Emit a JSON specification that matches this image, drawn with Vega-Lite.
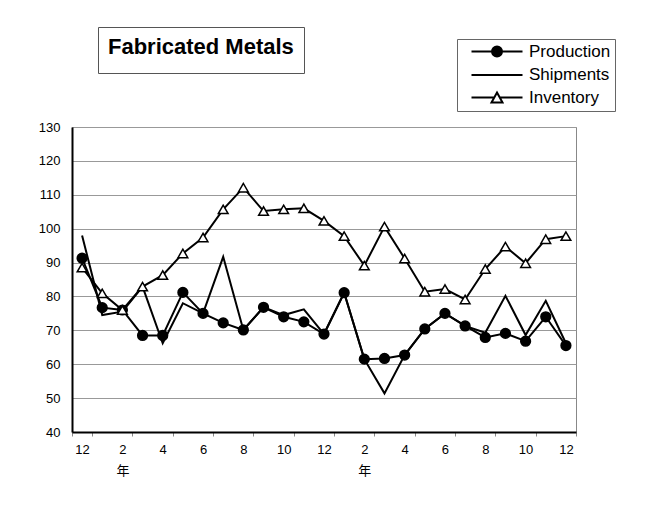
{
  "$schema": "https://vega.github.io/schema/vega-lite/v6.json",
  "width": 504,
  "height": 305,
  "autosize": {"type": "none"},
  "padding": {"left": 72, "top": 127, "right": 72, "bottom": 73},
  "background": "white",
  "config": {
    "view": {"stroke": "#888", "strokeWidth": 1},
    "font": "Liberation Sans, Noto Sans CJK JP"
  },
  "data": {
    "values": [
      {"p": "Y0-12", "Production": 91.3, "Shipments": 98.0, "Inventory": 88.5},
      {"p": "Y1-01", "Production": 76.7, "Shipments": 74.5, "Inventory": 80.9},
      {"p": "Y1-02", "Production": 76.0, "Shipments": 75.5, "Inventory": 76.0},
      {"p": "Y1-03", "Production": 68.5, "Shipments": 82.9, "Inventory": 82.9},
      {"p": "Y1-04", "Production": 68.5, "Shipments": 66.2, "Inventory": 86.3},
      {"p": "Y1-05", "Production": 81.2, "Shipments": 78.0, "Inventory": 92.7},
      {"p": "Y1-06", "Production": 75.0, "Shipments": 75.0, "Inventory": 97.4},
      {"p": "Y1-07", "Production": 72.2, "Shipments": 91.7, "Inventory": 105.7},
      {"p": "Y1-08", "Production": 70.1, "Shipments": 70.1, "Inventory": 112.1},
      {"p": "Y1-09", "Production": 76.8, "Shipments": 76.8, "Inventory": 105.2},
      {"p": "Y1-10", "Production": 74.0, "Shipments": 74.5, "Inventory": 105.7},
      {"p": "Y1-11", "Production": 72.5, "Shipments": 76.2, "Inventory": 106.0},
      {"p": "Y1-12", "Production": 68.9, "Shipments": 68.9, "Inventory": 102.3},
      {"p": "Y2-01", "Production": 81.1, "Shipments": 81.1, "Inventory": 97.8},
      {"p": "Y2-02", "Production": 61.5, "Shipments": 61.5, "Inventory": 89.1},
      {"p": "Y2-03", "Production": 61.7, "Shipments": 51.4, "Inventory": 100.6},
      {"p": "Y2-04", "Production": 62.7, "Shipments": 62.7, "Inventory": 91.2},
      {"p": "Y2-05", "Production": 70.4, "Shipments": 70.4, "Inventory": 81.4},
      {"p": "Y2-06", "Production": 75.0, "Shipments": 75.0, "Inventory": 82.2},
      {"p": "Y2-07", "Production": 71.3, "Shipments": 71.3, "Inventory": 79.1},
      {"p": "Y2-08", "Production": 67.9, "Shipments": 69.3, "Inventory": 88.1},
      {"p": "Y2-09", "Production": 69.1, "Shipments": 80.2, "Inventory": 94.7},
      {"p": "Y2-10", "Production": 66.8, "Shipments": 68.6, "Inventory": 89.8},
      {"p": "Y2-11", "Production": 74.0, "Shipments": 78.7, "Inventory": 96.9},
      {"p": "Y2-12", "Production": 65.5, "Shipments": 66.2, "Inventory": 97.8}
    ]
  },
  "transform": [{"fold": ["Production", "Shipments", "Inventory"], "as": ["series", "v"]}],
  "encoding": {
    "x": {
      "field": "p",
      "type": "ordinal",
      "sort": null,
      "scale": {"type": "band", "paddingInner": 0, "paddingOuter": 0},
      "axis": {
        "title": null,
        "values": ["Y0-12", "Y1-02", "Y1-04", "Y1-06", "Y1-08", "Y1-10", "Y1-12", "Y2-02", "Y2-04", "Y2-06", "Y2-08", "Y2-10", "Y2-12"],
        "labelExpr": "isString(datum.value) ? ((datum.value == 'Y1-02' || datum.value == 'Y2-02') ? ['2', '年'] : '' + toNumber(substring(datum.value, 3))) : ''",
        "labelAngle": 0,
        "labelFontSize": 13,
        "labelColor": "black",
        "labelPadding": 7,
        "labelLineHeight": 21,
        "tickBand": "extent",
        "ticks": true,
        "tickSize": 4,
        "tickColor": "#888",
        "domainColor": "black",
        "domainWidth": 2,
        "grid": false
      }
    },
    "y": {
      "field": "v",
      "type": "quantitative",
      "scale": {"domain": [40, 130], "nice": false, "zero": false},
      "axis": {
        "title": null,
        "values": [40, 50, 60, 70, 80, 90, 100, 110, 120, 130],
        "ticks": false,
        "labelPadding": 12,
        "labelFontSize": 13,
        "labelColor": "black",
        "domainColor": "black",
        "domainWidth": 2,
        "gridColor": "#999",
        "gridWidth": 1
      }
    }
  },
  "layer": [
    {
      "mark": {"type": "line", "stroke": "black", "strokeWidth": 2},
      "encoding": {"detail": {"field": "series", "type": "nominal"}}
    },
    {
      "transform": [{"filter": "datum.series != 'Shipments'"}],
      "mark": {"type": "point", "filled": false, "opacity": 1, "strokeWidth": 1.5, "stroke": "black", "size": 95},
      "encoding": {
        "shape": {
          "field": "series",
          "type": "nominal",
          "scale": {"domain": ["Production", "Shipments", "Inventory"], "range": ["circle", "stroke", "triangle-up"]},
          "legend": null
        },
        "fill": {
          "field": "series",
          "type": "nominal",
          "scale": {"domain": ["Production", "Shipments", "Inventory"], "range": ["black", "black", "white"]},
          "legend": null
        }
      }
    },
    {
      "transform": [{"filter": "datum.series == 'legend-only'"}],
      "mark": {"type": "point", "filled": false, "strokeWidth": 2, "stroke": "black"},
      "encoding": {
        "shape": {
          "field": "series",
          "type": "nominal",
          "scale": {
            "domain": ["Production", "Shipments", "Inventory"],
            "range": [
              "M-5.1,0H5.1M-1,0C-1,-0.552,-0.552,-1,0,-1C0.552,-1,1,-0.552,1,0C1,0.552,0.552,1,0,1C-0.552,1,-1,0.552,-1,0ZM-0.6,0C-0.6,-0.331,-0.331,-0.6,0,-0.6C0.331,-0.6,0.6,-0.331,0.6,0C0.6,0.331,0.331,0.6,0,0.6C-0.331,0.6,-0.6,0.331,-0.6,0ZM-0.2,0C-0.2,-0.11,-0.11,-0.2,0,-0.2C0.11,-0.2,0.2,-0.11,0.2,0C0.2,0.11,0.11,0.2,0,0.2C-0.11,0.2,-0.2,0.11,-0.2,0Z",
              "M-5.1,0H5.1",
              "M-5.1,0H-0.55M0.55,0H5.1M0,-1L1.1,1L-1.1,1Z"
            ]
          },
          "legend": {
            "orient": "none",
            "legendX": 385,
            "legendY": -88,
            "title": null,
            "strokeColor": "#666",
            "fillColor": "white",
            "padding": 4,
            "rowPadding": 4.5,
            "symbolSize": 100,
            "symbolOffset": 27.5,
            "symbolStrokeWidth": 2,
            "symbolStrokeColor": "black",
            "symbolFillColor": "white",
            "symbolOpacity": 1,
            "labelFontSize": 17,
            "labelFont": "Liberation Sans",
            "labelColor": "black",
            "labelOffset": 23.5
          }
        }
      }
    },
    {
      "transform": [{"filter": "datum.series == 'title-only'"}],
      "mark": {"type": "point"},
      "encoding": {
        "opacity": {
          "field": "series",
          "type": "ordinal",
          "scale": {"domain": [""], "range": [1]},
          "legend": {
            "orient": "none",
            "legendX": 26,
            "legendY": -100,
            "title": "Fabricated Metals",
            "titleFontSize": 22,
            "titleFontWeight": "bold",
            "titleFont": "Liberation Sans",
            "titleColor": "black",
            "titleLimit": 400,
            "titlePadding": 0,
            "strokeColor": "#555",
            "fillColor": "white",
            "padding": 10,
            "symbolSize": 0,
            "symbolOpacity": 0,
            "labelFontSize": 1,
            "labelExpr": "''"
          }
        }
      }
    }
  ],
  "resolve": {"scale": {"shape": "independent"}}
}
